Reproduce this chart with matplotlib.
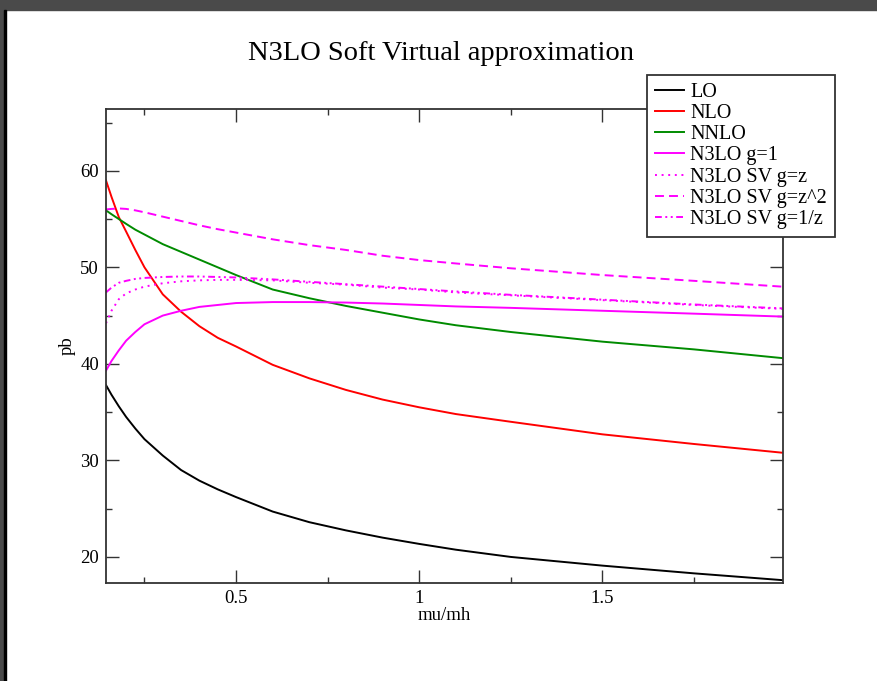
import numpy as np
import matplotlib
matplotlib.use("Agg")
import matplotlib.pyplot as plt
from matplotlib.patches import Rectangle

# mu/mh grid
mu = [0.145, 0.16, 0.18, 0.2, 0.225, 0.25, 0.3, 0.35, 0.4, 0.45, 0.5,
      0.6, 0.7, 0.8, 0.9, 1.0, 1.1, 1.25, 1.5, 1.75, 1.99]

lo = [37.8, 36.8, 35.6, 34.5, 33.3, 32.2, 30.5, 29.0, 27.9, 27.0, 26.2,
      24.7, 23.6, 22.75, 22.0, 21.35, 20.75, 20.0, 19.1, 18.3, 17.6]
nlo = [59.0, 57.3, 55.2, 53.7, 51.8, 50.0, 47.2, 45.4, 43.9, 42.7, 41.8,
       39.9, 38.5, 37.3, 36.3, 35.5, 34.8, 34.0, 32.7, 31.7, 30.8]
nnlo = [55.9, 55.5, 55.0, 54.5, 53.9, 53.4, 52.4, 51.6, 50.8, 50.0, 49.2,
        47.7, 46.8, 46.0, 45.3, 44.6, 44.0, 43.3, 42.3, 41.5, 40.6]
n3lo_g1 = [39.3, 40.3, 41.4, 42.4, 43.3, 44.1, 45.0, 45.5, 45.9, 46.1, 46.3,
           46.4, 46.4, 46.35, 46.25, 46.1, 45.95, 45.8, 45.5, 45.2, 44.9]
sv_z = [44.2, 45.5, 46.7, 47.3, 47.7, 48.0, 48.35, 48.55, 48.65, 48.7, 48.7,
        48.65, 48.4, 48.2, 47.9, 47.7, 47.4, 47.1, 46.6, 46.1, 45.7]
sv_z2 = [56.0, 56.05, 56.1, 56.05, 55.9, 55.7, 55.25, 54.8, 54.35, 53.95, 53.6,
         52.9, 52.3, 51.8, 51.2, 50.75, 50.4, 49.9, 49.2, 48.6, 48.0]
sv_1z = [47.4, 47.9, 48.4, 48.6, 48.8, 48.9, 49.0, 49.05, 49.05, 49.0, 48.95,
         48.75, 48.5, 48.25, 48.0, 47.75, 47.5, 47.15, 46.65, 46.15, 45.75]

plt.rcParams['font.family'] = ['Liberation Serif', 'DejaVu Serif']

W, H = 877, 681
fig = plt.figure(figsize=(W / 100, H / 100), dpi=100)

# screenshot frame (dark strip on top and left)
fig.patches.append(Rectangle((0, 1 - 10 / H), 1, 10 / H, transform=fig.transFigure,
                             color='#4a4a4a', zorder=0))
fig.patches.append(Rectangle((0, 0), 4 / W, 1, transform=fig.transFigure,
                             color='#4a4a4a', zorder=0))
fig.patches.append(Rectangle((4 / W, 0), 1.5 / W, 1 - 10 / H, transform=fig.transFigure,
                             color='black', zorder=0))

ax = fig.add_axes([106 / W, 1 - 583 / H, (783 - 106) / W, (583 - 109) / H])

lw = 1.4
ax.plot(mu, lo, color='black', lw=lw, label='LO')
ax.plot(mu, nlo, color='#ff0000', lw=lw, label='NLO')
ax.plot(mu, nnlo, color='#008b00', lw=lw, label='NNLO')
ax.plot(mu, n3lo_g1, color='#ff00ff', lw=lw, label='N3LO g=1')
ax.plot(mu, sv_z, color='#ff00ff', lw=lw, linestyle=(0, (1.0, 2.4)), label='N3LO SV g=z')
ax.plot(mu, sv_z2, color='#ff00ff', lw=lw, linestyle=(0, (4.6, 2.6)), label='N3LO SV g=z^2')
ax.plot(mu, sv_1z, color='#ff00ff', lw=lw, linestyle=(0, (3.5, 1.8, 1.0, 1.8, 1.0, 1.8)),
        label='N3LO SV g=1/z')

ax.set_xlim(0.145, 1.993)
ax.set_ylim(17.3, 66.4)

ax.set_xticks([0.5, 1.0, 1.5])
ax.set_xticklabels(['0.5', '1', '1.5'])
ax.set_xticks([0.25, 0.75, 1.25, 1.75], minor=True)
ax.set_yticks([20, 30, 40, 50, 60])
ax.set_yticks([25, 35, 45, 55, 65], minor=True)

ax.tick_params(which='both', direction='in', top=True, right=True,
               labelsize=13.5, width=1.0, color='#333333')
ax.tick_params(which='major', length=9.4, pad=5)
ax.tick_params(which='minor', length=4.5)
for s in ax.spines.values():
    s.set_linewidth(1.3)
    s.set_color('#333333')

ax.set_xlabel('mu/mh', fontsize=13.5, labelpad=0)
ax.set_ylabel('pb', fontsize=13.5, labelpad=3)

fig.text(441 / W, 1 - 53 / H, 'N3LO Soft Virtual approximation', fontsize=20.5,
         ha='center', va='center')

leg = ax.legend(loc='upper left', bbox_to_anchor=(647 / W, 1 - 75 / H),
                bbox_transform=fig.transFigure, fontsize=14.5, frameon=True,
                fancybox=False, framealpha=1, edgecolor='#333333',
                handlelength=1.45, handletextpad=0.3, labelspacing=0.1,
                borderpad=0.4, borderaxespad=0)
leg.get_frame().set_linewidth(1.3)

fig.savefig('out.png', dpi=100)
